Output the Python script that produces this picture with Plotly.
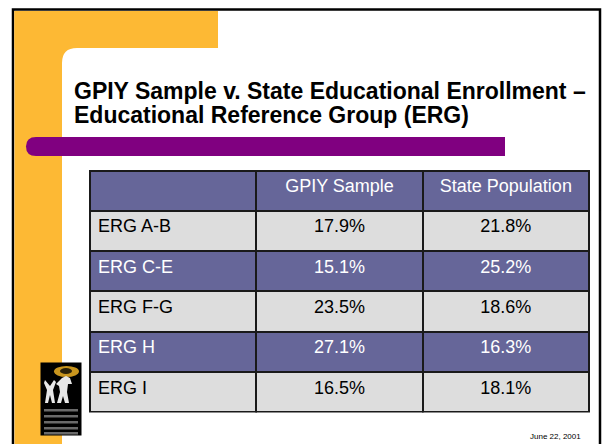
import plotly.graph_objects as go

W, H = 602, 444

title_line1 = "GPIY Sample v. State Educational Enrollment –"
title_line2 = "Educational Reference Group (ERG)"
header_labels = ["", "GPIY Sample", "State Population"]
erg_groups = ["ERG A-B", "ERG C-E", "ERG F-G", "ERG H", "ERG I"]
gpiy_sample = [17.9, 15.1, 23.5, 27.1, 16.5]
state_population = [21.8, 25.2, 18.6, 16.3, 18.1]
date_text = "June 22, 2001"

ORANGE = "#FDB934"
PURPLE = "#800080"
TBL_PURPLE = "#666699"
TBL_GRAY = "#DDDDDD"
FONT = "Liberation Sans, Arial, sans-serif"

row_fill = [TBL_GRAY if i % 2 == 0 else TBL_PURPLE for i in range(len(erg_groups))]
row_font = ["black" if i % 2 == 0 else "white" for i in range(len(erg_groups))]


def px_y(py):
    return 1 - py / H


fig = go.Figure()

fig.add_trace(go.Table(
    domain=dict(x=[90 / W, 589 / W], y=[px_y(412.5), px_y(170.5)]),
    columnwidth=[1, 1, 1],
    header=dict(
        values=header_labels,
        fill_color=TBL_PURPLE,
        line=dict(color="#1a1a1a", width=2),
        font=dict(color="white", size=18, family=FONT),
        align=["left", "center", "center"],
        height=40.3,
    ),
    cells=dict(
        values=[erg_groups,
                [f"{v:.1f}%" for v in gpiy_sample],
                [f"{v:.1f}%" for v in state_population]],
        fill_color=[row_fill] * 3,
        line=dict(color="#1a1a1a", width=2),
        font=dict(color=[row_font] * 3, size=18, family=FONT),
        align=["left", "center", "center"],
        height=40.3,
    ),
))

shapes = []
# outer frame
shapes.append(dict(type="rect", x0=13, y0=9.5, x1=600, y1=460, line=dict(color="black", width=2.5),
                   fillcolor="white", layer="below"))
# orange L band
shapes.append(dict(type="rect", x0=14.5, y0=11, x1=218, y1=48, line=dict(width=0), fillcolor=ORANGE, layer="below"))
shapes.append(dict(type="rect", x0=14.5, y0=11, x1=62, y1=460, line=dict(width=0), fillcolor=ORANGE, layer="below"))
# rounded inner corner
shapes.append(dict(type="path", path="M 62 48 L 77 48 Q 62 48 62 63 Z", line=dict(width=0),
                   fillcolor=ORANGE, layer="below"))
# purple bar with rounded left end
shapes.append(dict(type="path",
                   path="M 36 137 L 505 137 L 505 156 L 36 156 Q 26 156 26 146.5 Q 26 137 36 137 Z",
                   line=dict(width=0), fillcolor=PURPLE, layer="below"))
# logo
shapes.append(dict(type="rect", x0=40.5, y0=362.5, x1=81.5, y1=435.5, line=dict(width=0),
                   fillcolor="black", layer="above"))
shapes.append(dict(type="circle", x0=54, y0=366, x1=79, y1=377, line=dict(width=0),
                   fillcolor="#C8951E", layer="above"))
shapes.append(dict(type="circle", x0=60, y0=368, x1=72, y1=374, line=dict(width=0),
                   fillcolor="#2a2108", layer="above"))
shapes.append(dict(type="path", path="M 45 380 L 50 386 L 54 380 L 56 382 L 53 390 L 55 403 L 52 403 L 50 395 L 48 403 L 45 403 L 47 390 L 44 383 Z",
                   line=dict(width=0), fillcolor="#e8e8e8", layer="above"))
shapes.append(dict(type="path", path="M 56 384 L 62 378 L 66 376 L 70 378 L 72 384 L 68 384 L 67 392 L 69 403 L 65 403 L 63 396 L 61 403 L 57 403 L 60 392 L 59 386 Z",
                   line=dict(width=0), fillcolor="#e8e8e8", layer="above"))
for y in [409, 415, 421, 427, 432]:
    shapes.append(dict(type="rect", x0=44, y0=y, x1=78, y1=y + 2.5, line=dict(width=0),
                       fillcolor="#6a6a6a", layer="above"))

annotations = [
    dict(x=72, y=91, text="<b>" + title_line1 + "</b>", showarrow=False, xanchor="left", yanchor="middle",
         font=dict(family=FONT, size=23, color="black"), xref="x", yref="y"),
    dict(x=72, y=115, text="<b>" + title_line2 + "</b>", showarrow=False, xanchor="left", yanchor="middle",
         font=dict(family=FONT, size=23, color="black"), xref="x", yref="y"),
    dict(x=583, y=443, text=date_text, showarrow=False, xanchor="right", yanchor="bottom",
         font=dict(family=FONT, size=8, color="black"), xref="x", yref="y"),
]

fig.update_layout(
    width=W, height=H,
    margin=dict(l=0, r=0, t=0, b=0),
    paper_bgcolor="white", plot_bgcolor="white",
    xaxis=dict(range=[0, W], visible=False, domain=[0, 1], fixedrange=True),
    yaxis=dict(range=[H, 0], visible=False, domain=[0, 1], fixedrange=True),
    shapes=shapes,
    annotations=annotations,
    showlegend=False,
)

fig.write_html("out.html", config={"displayModeBar": False},
               post_script="document.body.style.margin='0';document.body.style.overflow='hidden';")
